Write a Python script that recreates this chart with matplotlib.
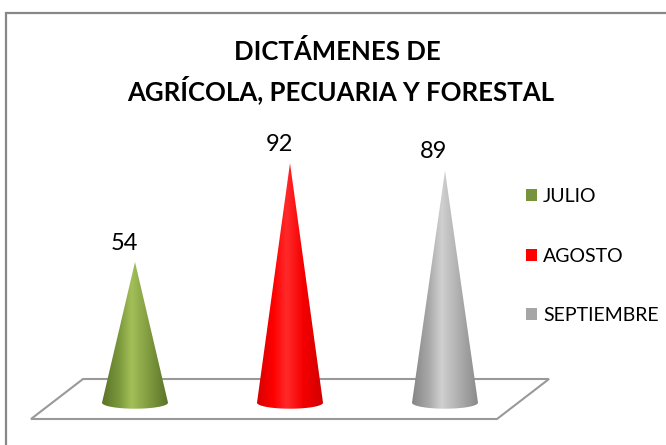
import numpy as np
import matplotlib
matplotlib.use("Agg")
import matplotlib.pyplot as plt
from matplotlib.path import Path
from matplotlib.patches import PathPatch, Patch, Rectangle, Polygon
from matplotlib.colors import LinearSegmentedColormap

# ---- data ----
categories = ["JULIO", "AGOSTO", "SEPTIEMBRE"]
values = [54, 92, 89]
title_lines = ["DICTÁMENES DE", "AGRÍCOLA, PECUARIA Y FORESTAL"]

# ---- styles ----
base_colors = ["#77933C", "#FF0000", "#A6A6A6"]
gradients = [
    ["#5b7327", "#7a973b", "#a2bf58", "#819d40", "#5b7327"],
    ["#d80000", "#ff0000", "#ff2a2a", "#f50000", "#d00000"],
    ["#858585", "#a8a8a8", "#d0d0d0", "#b0b0b0", "#8a8a8a"],
]

W, H = 666, 445
DPI = 100
fig = plt.figure(figsize=(W / DPI, H / DPI), dpi=DPI)
plt.rcParams["font.family"] = ["Lato", "DejaVu Sans"]

ax = fig.add_axes([0, 0, 1, 1])
# pixel mapping: x_px = 135 + 155*i ; y_px = 402.7 - 2.605*v
x0, xs = 135.0, 155.0
y0, ys = 402.7, 2.605
ax.set_xlim((0 - x0) / xs, (W - x0) / xs)
ax.set_ylim((y0 - H) / ys, (y0 - 0) / ys)
ax.axis("off")

def px2fig(px, py):
    return px / W, 1 - py / H

def px2data(px, py):
    return (px - x0) / xs, (y0 - py) / ys

# border (chart frame)
frame = Rectangle(px2fig(5.5, 470), (W + 20) / W, (470 - 13.5) / H,
                  transform=fig.transFigure, fill=False, edgecolor="#878787",
                  linewidth=1.6, zorder=0)
fig.patches.append(frame)

# floor
floor_px = [(83, 379), (549, 379), (497, 419), (31, 419)]
floor = Polygon([px2data(*p) for p in floor_px], closed=True,
                facecolor="white", edgecolor="#999999", linewidth=1.5, zorder=1)
ax.add_patch(floor)

# cones
hw = 33.0 / xs      # base half width in data units
eh = 6.0 / ys       # base ellipse semi-minor in data units
for i, (v, grad) in enumerate(zip(values, gradients)):
    t = np.linspace(np.pi, 2 * np.pi, 40)
    arc = [(i + hw * np.cos(a), eh * np.sin(a)) for a in t]
    verts = [(i, v), (i - hw, 0)] + arc + [(i + hw, 0), (i, v)]
    codes = [Path.MOVETO] + [Path.LINETO] * (len(verts) - 2) + [Path.CLOSEPOLY]
    patch = PathPatch(Path(verts, codes), facecolor="none", edgecolor="none")
    ax.add_patch(patch)
    cmap = LinearSegmentedColormap.from_list("c%d" % i, list(zip([0, 0.25, 0.45, 0.7, 1.0], grad)))
    grad_img = np.tile(np.linspace(0, 1, 256), (2, 1))
    im = ax.imshow(grad_img, cmap=cmap, extent=[i - hw, i + hw, -eh, v],
                   aspect="auto", interpolation="bilinear", zorder=3)
    im.set_clip_path(patch)
    ax.text(i - 11 / xs, v + 19 / ys, str(v), ha="center", va="center",
            fontsize=17, color="black", zorder=5)

ax.set_xlim((0 - x0) / xs, (W - x0) / xs)
ax.set_ylim((y0 - H) / ys, (y0 - 0) / ys)

# title
fig.text(*px2fig(337, 52), title_lines[0], ha="center", va="center",
         fontsize=18.5, fontweight="bold")
fig.text(*px2fig(341, 90), title_lines[1], ha="center", va="center",
         fontsize=18.5, fontweight="bold")

# legend
handles = [Patch(facecolor=c, edgecolor="none") for c in base_colors]
leg = fig.legend(handles, categories, loc="center left",
                 bbox_to_anchor=px2fig(526, 256), frameon=False,
                 fontsize=14, handlelength=0.58, handleheight=0.58,
                 handletextpad=0.3, labelspacing=2.2, borderpad=0,
                 borderaxespad=0)

fig.savefig("out.png", dpi=DPI)
